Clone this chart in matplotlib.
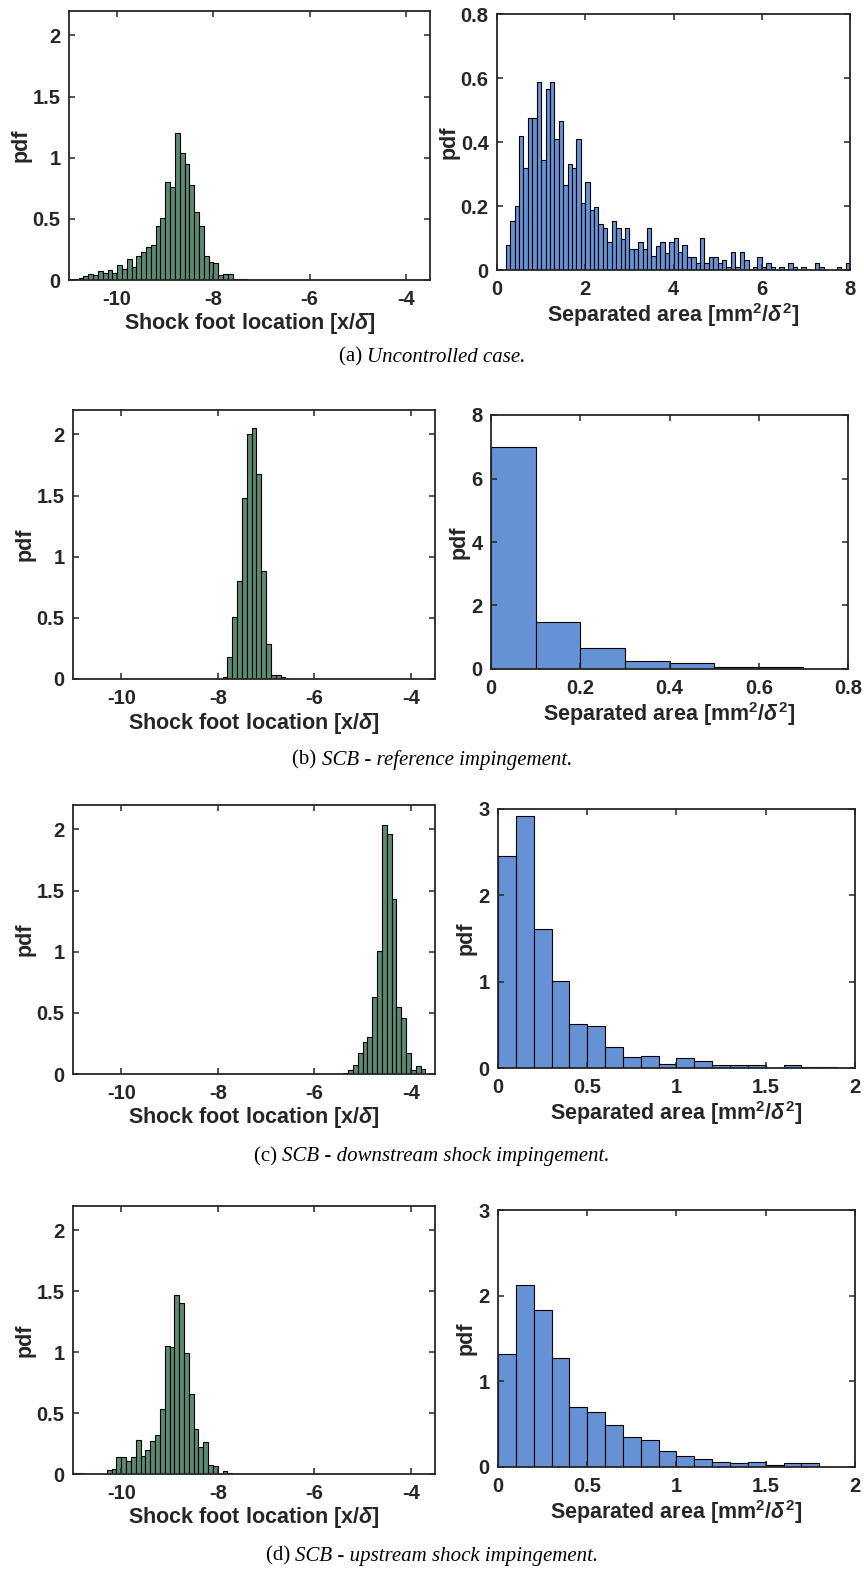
import numpy as np
import matplotlib
matplotlib.use("Agg")
import matplotlib.pyplot as plt

plt.rcParams['font.family'] = ['Liberation Sans', 'DejaVu Sans']
plt.rcParams['font.weight'] = 'bold'
plt.rcParams['axes.unicode_minus'] = False
plt.rcParams['mathtext.fontset'] = 'custom'
plt.rcParams['mathtext.rm'] = 'Liberation Sans:bold'
plt.rcParams['mathtext.bf'] = 'Liberation Sans:bold'
plt.rcParams['mathtext.it'] = 'Liberation Sans:italic'

# shock foot location pdfs, bin width 0.1 in x/delta
shock_width = 0.1
shock_a_start = -11.0
shock_a = [0.01, 0.01, 0.02, 0.03, 0.05, 0.04, 0.07, 0.06, 0.08, 0.06,
           0.12, 0.09, 0.17, 0.11, 0.20, 0.23, 0.27, 0.29, 0.44, 0.51,
           0.80, 0.76, 1.20, 1.04, 0.95, 0.78, 0.56, 0.44, 0.20, 0.15,
           0.14, 0.04, 0.05, 0.05, 0.01, 0.01, 0.01]
shock_b_start = -7.9
shock_b = [0.02, 0.18, 0.51, 0.80, 1.48, 2.00, 2.05, 1.68, 0.88, 0.29,
           0.033, 0.033, 0.016]
shock_c_start = -5.4
shock_c = [0.005, 0.03, 0.076, 0.17, 0.26, 0.30, 0.63, 1.01, 2.04, 1.96,
           1.43, 0.55, 0.46, 0.17, 0.035, 0.065, 0.044]
shock_d_start = -11.0
shock_d = [0.005, 0.005, 0.0, 0.003, 0.003, 0.003, 0.003, 0.035, 0.044, 0.137,
           0.137, 0.11, 0.137, 0.28, 0.148, 0.20, 0.27, 0.32, 0.53, 1.05,
           1.04, 1.47, 1.40, 0.99, 0.66, 0.37, 0.22, 0.26, 0.077, 0.068,
           0.0, 0.022, 0.008]

# separated area pdfs
area_a_start = 0.2
area_a_width = 0.1
area_a = [0.077, 0.154, 0.199, 0.42, 0.32, 0.476, 0.476, 0.586, 0.344, 0.565,
          0.586, 0.41, 0.465, 0.265, 0.33, 0.32, 0.41, 0.21, 0.276, 0.186,
          0.198, 0.143, 0.131, 0.086, 0.153, 0.131, 0.098, 0.131, 0.065, 0.065,
          0.086, 0.065, 0.131, 0.043, 0.076, 0.086, 0.054, 0.086, 0.10, 0.056,
          0.077, 0.042, 0.042, 0.021, 0.10, 0.021, 0.042, 0.042, 0.021, 0.032,
          0.008, 0.055, 0.008, 0.055, 0.032, 0.0, 0.008, 0.042, 0.008, 0.021,
          0.008, 0.0, 0.008, 0.0, 0.021, 0.008, 0.0, 0.008, 0.0, 0.0,
          0.021, 0.008, 0.0, 0.0, 0.0, 0.008, 0.0, 0.021]
area_b_width = 0.1
area_b = [7.0, 1.47, 0.67, 0.25, 0.19, 0.07, 0.06, 0.015]
area_c_width = 0.1
area_c = [2.46, 2.92, 1.61, 1.01, 0.51, 0.49, 0.24, 0.13, 0.14, 0.05,
          0.12, 0.085, 0.03, 0.03, 0.03, 0.0, 0.04, 0.01, 0.01]
area_d_width = 0.1
area_d = [1.32, 2.13, 1.83, 1.27, 0.70, 0.64, 0.49, 0.35, 0.31, 0.19,
          0.13, 0.09, 0.06, 0.05, 0.06, 0.02, 0.05, 0.05, 0.004]

captions = [("(a) ", "Uncontrolled case."),
            ("(b) ", "SCB - reference impingement."),
            ("(c) ", "SCB - downstream shock impingement."),
            ("(d) ", "SCB - upstream shock impingement.")]

green = '#5b8a72'
blue = '#6592d5'
ink = '#262626'

W, H = 864, 1572
fig = plt.figure(figsize=(W / 100, H / 100), dpi=100)


def box(x0, y0, x1, y1):
    return fig.add_axes([x0 / W, 1 - y1 / H, (x1 - x0) / W, (y1 - y0) / H])


def style(ax):
    for s in ax.spines.values():
        s.set_color(ink)
        s.set_linewidth(1.3)
    ax.tick_params(direction='in', top=True, right=True, length=4, width=1.1,
                   color=ink, labelcolor=ink, labelsize=14.5, pad=6)
    ax.tick_params(axis='x', pad=7)
    for lab in ax.get_xticklabels() + ax.get_yticklabels():
        lab.set_fontweight('bold')


def draw(ax, start, width, heights, color):
    edges = start + width * np.arange(len(heights))
    ax.bar(edges, heights, width=width, align='edge', color=color,
           edgecolor='black', linewidth=0.8)


shock = [(shock_a_start, shock_a), (shock_b_start, shock_b),
         (shock_c_start, shock_c), (shock_d_start, shock_d)]
area = [(area_a_start, area_a_width, area_a), (0.0, area_b_width, area_b),
        (0.0, area_c_width, area_c), (0.0, area_d_width, area_d)]
left_boxes = [(69, 11, 430, 280), (73, 410, 435, 679),
              (73, 805, 435, 1074), (73, 1206, 435, 1474)]
right_boxes = [(497, 14, 850, 270), (491, 415, 848, 669),
               (498, 809, 855, 1068), (498, 1210, 855, 1467)]
right_lims = [((0, 8), (0, 0.8), [0, 2, 4, 6, 8], [0, 0.2, 0.4, 0.6, 0.8]),
              ((0, 0.8), (0, 8), [0, 0.2, 0.4, 0.6, 0.8], [0, 2, 4, 6, 8]),
              ((0, 2), (0, 3), [0, 0.5, 1, 1.5, 2], [0, 1, 2, 3]),
              ((0, 2), (0, 3), [0, 0.5, 1, 1.5, 2], [0, 1, 2, 3])]
caption_y = [357, 760, 1157, 1556]

for i in range(4):
    ax = box(*left_boxes[i])
    draw(ax, shock[i][0], shock_width, shock[i][1], green)
    ax.set_xlim(-11, -3.5)
    ax.set_ylim(0, 2.2)
    ax.set_xticks([-10, -8, -6, -4])
    ax.set_yticks([0, 0.5, 1, 1.5, 2])
    ax.set_yticklabels(['0', '0.5', '1', '1.5', '2'])
    ax.set_xlabel(r'Shock foot location [x/$\delta$]', fontsize=15.5,
                  fontweight='bold', color=ink, labelpad=2)
    ax.set_ylabel('pdf', fontsize=15.5, fontweight='bold', color=ink, labelpad=1)
    style(ax)

    ax = box(*right_boxes[i])
    start, width, heights = area[i]
    draw(ax, start, width, heights, blue)
    xl, yl, xt, yt = right_lims[i]
    ax.set_xlim(*xl)
    ax.set_ylim(*yl)
    ax.set_xticks(xt)
    ax.set_yticks(yt)
    ax.set_xticklabels([f'{v:g}' for v in xt])
    ax.set_yticklabels([f'{v:g}' for v in yt])
    ax.set_xlabel(r'Separated area [mm$^2$/$\delta^2$]', fontsize=15.5,
                  fontweight='bold', color=ink, labelpad=2)
    ax.set_ylabel('pdf', fontsize=15.5, fontweight='bold', color=ink, labelpad=1)
    style(ax)

# captions: upright tag followed by italic text, centred as a whole
renderer = fig.canvas.get_renderer()
for (tag, text), yc in zip(captions, caption_y):
    y = 1 - yc / H
    t1 = fig.text(0, y, tag, family='Liberation Serif', fontsize=15,
                  fontweight='normal', va='center', ha='left')
    t2 = fig.text(0, y, text, family='Liberation Serif', fontsize=15,
                  fontweight='normal', style='italic', va='center', ha='left')
    w1 = t1.get_window_extent(renderer).width
    w2 = t2.get_window_extent(renderer).width
    x0 = (W / 2) - (w1 + w2) / 2
    t1.set_x(x0 / W)
    t2.set_x((x0 + w1) / W)

fig.savefig('out.png', dpi=100)
